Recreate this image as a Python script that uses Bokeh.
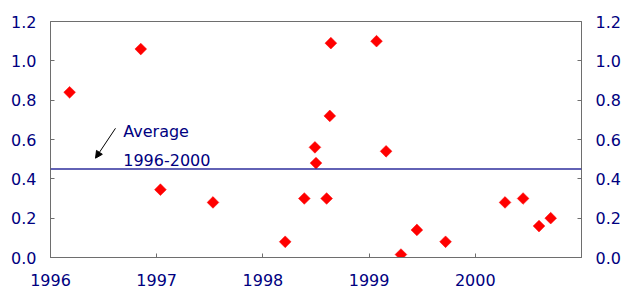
from bokeh.plotting import figure
from bokeh.models import (Range1d, LinearAxis, FixedTicker, NumeralTickFormatter,
                          Span, Label, Arrow, NormalHead, ColumnDataSource)
from bokeh.embed import file_html
from bokeh.resources import INLINE
import math

# ---- data ----
dates = [1996.18, 1996.85, 1997.035, 1997.53, 1998.21, 1998.39, 1998.49, 1998.50,
         1998.60, 1998.63, 1998.64, 1999.07, 1999.16, 1999.30, 1999.45, 1999.72,
         2000.28, 2000.45, 2000.60, 2000.71]
values = [0.84, 1.06, 0.345, 0.28, 0.08, 0.30, 0.56, 0.48,
          0.30, 0.72, 1.09, 1.10, 0.54, 0.015, 0.14, 0.08,
          0.28, 0.30, 0.16, 0.20]
average_value = 0.45
x_ticks = [1996, 1997, 1998, 1999, 2000]
x_tick_labels = ["1996", "1997", "1998", "1999", "2000"]
y_ticks = [0.0, 0.2, 0.4, 0.6, 0.8, 1.0, 1.2]
avg_label_1 = "Average"
avg_label_2 = "1996-2000"

FONT = "DejaVu Sans"
TXT = "#000080"
AX = "#6e6e6e"

p = figure(frame_width=531, frame_height=236,
           min_border_left=50, min_border_right=40, min_border_top=21, min_border_bottom=36,
           x_range=Range1d(1996, 2001), y_range=Range1d(0, 1.2),
           output_backend="svg", toolbar_location=None,
           x_axis_location=None, y_axis_location=None)
p.grid.visible = False
p.outline_line_color = AX
p.outline_line_width = 1
p.background_fill_color = "white"
p.border_fill_color = "white"

def style(ax):
    ax.axis_line_color = AX
    ax.major_tick_line_color = AX
    ax.major_tick_in = 4
    ax.major_tick_out = 0
    ax.minor_tick_line_color = None
    ax.major_label_text_font = FONT
    ax.major_label_text_font_size = "16px"
    ax.major_label_text_color = TXT

xaxis = LinearAxis(ticker=FixedTicker(ticks=x_ticks),
                   major_label_overrides={t: l for t, l in zip(x_ticks, x_tick_labels)})
style(xaxis)
xaxis.major_label_standoff = 16
p.add_layout(xaxis, "below")

yl = LinearAxis(ticker=FixedTicker(ticks=y_ticks), formatter=NumeralTickFormatter(format="0.0"))
style(yl)
yl.major_label_standoff = 14
p.add_layout(yl, "left")

yr = LinearAxis(ticker=FixedTicker(ticks=y_ticks), formatter=NumeralTickFormatter(format="0.0"))
style(yr)
yr.major_label_standoff = 14
p.add_layout(yr, "right")

# average line
p.add_layout(Span(location=average_value, dimension="width", line_color="#2e2e9c", line_width=1.6))

# annotation
p.add_layout(Label(x=1996.685, y=0.639, text=avg_label_1, text_font=FONT, text_font_size="16px",
                   text_color=TXT, text_baseline="alphabetic"))
p.add_layout(Label(x=1996.685, y=0.495, text=avg_label_2, text_font=FONT, text_font_size="16px",
                   text_color=TXT, text_baseline="alphabetic"))
p.add_layout(Arrow(x_start=1996.612, y_start=0.657, x_end=1996.424, y_end=0.505,
                   line_color="black", line_width=1,
                   end=NormalHead(size=7, fill_color="black", line_color="black")))

src = ColumnDataSource(dict(x=dates, y=values))
p.scatter("x", "y", source=src, marker="square", angle=math.pi / 4, size=8.3,
          fill_color="#ff0000", line_color="#ff0000", line_width=0.5)

open("out.html", "w").write(file_html(p, INLINE))
